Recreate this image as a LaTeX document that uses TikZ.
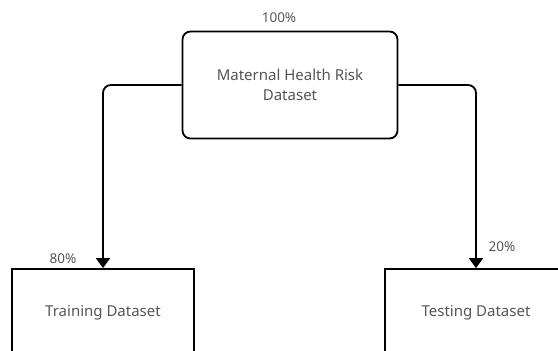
\documentclass[tikz,border=0pt]{standalone}
\usepackage{fontspec}
\setmainfont{Noto Sans}
\usetikzlibrary{arrows.meta}
\definecolor{textgray}{HTML}{555555}
\tikzset{
	datenbox/.style={draw=black, line width=1.8pt, fill=white, text=textgray,
	font=\fontsize{15}{20}\selectfont, align=center, inner sep=0pt},
	anteil/.style={text=textgray, font=\fontsize{13.5}{16}\selectfont},
	verbinder/.style={line width=1.8pt, rounded corners=8pt,
	-{Triangle[width=14pt, length=10pt]}}
}
\begin{document}
\begin{tikzpicture}[x=1pt, y=-1pt]
	\useasboundingbox (0, 0) rectangle (558, 351);
	\clip (0, 0) rectangle (558, 351);
	% Datensatz oben
	\node[datenbox, rounded corners=8pt, minimum width=215pt, minimum height=107pt]
	(gesamt) at (290, 85) {Maternal Health Risk\\Dataset};
	\node[anteil] (anteilgesamt) at (279, 18) {100\%};
	% Aufteilung
	\node[datenbox, minimum width=182pt, minimum height=88pt]
	(training) at (103, 313) {Training Dataset};
	\node[anteil] (anteiltraining) at (63, 259) {80\%};
	\node[datenbox, minimum width=182pt, minimum height=88pt]
	(testing) at (476, 313) {Testing Dataset};
	\node[anteil] (anteiltesting) at (502, 247) {20\%};
	% Pfeile
	\draw[verbinder] (gesamt.west) -| (training.north);
	\draw[verbinder] (gesamt.east) -| (testing.north);
\end{tikzpicture}
\end{document}
